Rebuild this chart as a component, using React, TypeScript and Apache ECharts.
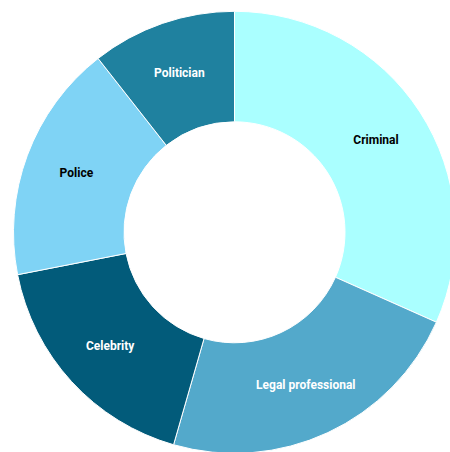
import React, { useEffect, useRef } from "react";
import * as echarts from "echarts";

const categories = ["Criminal", "Legal professional", "Celebrity", "Police", "Politician"];
const values = [31.7, 22.8, 17.5, 17.5, 10.6];
const colors = ["#aaffff", "#53a9cb", "#025b7a", "#7fd3f5", "#1f819f"];
const labelColors = ["#000000", "#ffffff", "#ffffff", "#000000", "#ffffff"];

export default function App() {
  const ref = useRef<HTMLDivElement>(null);
  useEffect(() => {
    if (!ref.current) return;
    const chart = echarts.init(ref.current, null, { renderer: "svg" });
    chart.setOption({
      animation: false,
      series: [
        {
          type: "pie",
          center: [234.5, 232.3],
          radius: [110.5, 221],
          startAngle: 90,
          clockwise: true,
          avoidLabelOverlap: false,
          itemStyle: { borderColor: "#ffffff", borderWidth: 1 },
          label: {
            show: true,
            position: "inside",
            fontFamily: "Roboto",
            fontWeight: "bold",
            fontSize: 12,
          },
          labelLine: { show: false },
          emphasis: { disabled: true },
          data: categories.map((name, i) => ({
            name,
            value: values[i],
            itemStyle: { color: colors[i] },
            label: { color: labelColors[i] },
          })),
        },
      ],
    });
    return () => chart.dispose();
  }, []);
  return (
    <div
      ref={ref}
      style={{ position: "fixed", left: 0, top: 0, width: 450, height: 452, background: "#fff" }}
    />
  );
}
